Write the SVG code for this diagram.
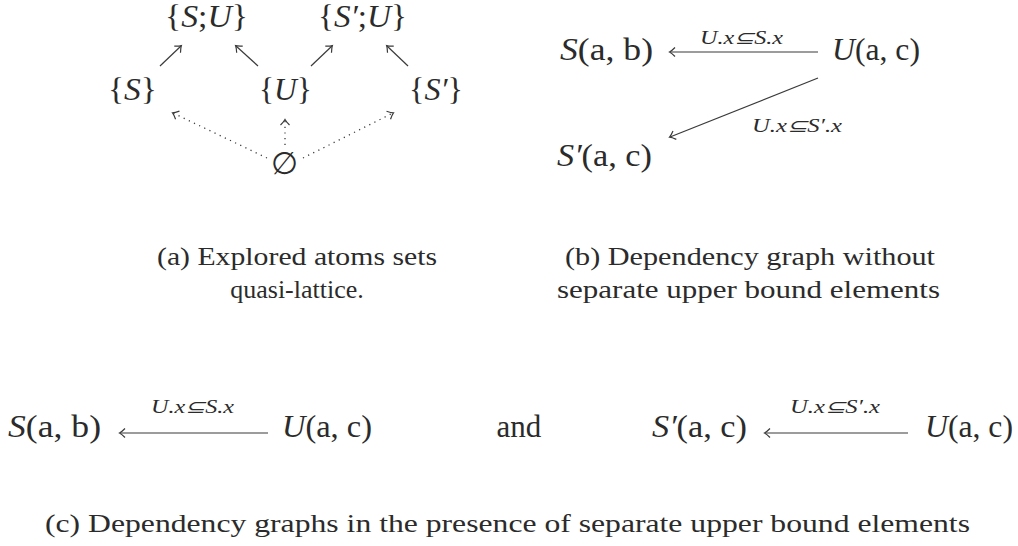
<svg xmlns="http://www.w3.org/2000/svg" width="1018" height="546" viewBox="0 0 1018 546">
<style>
text{font-family:"Liberation Serif",serif;fill:#2b2b2b;}
.m{font-size:31px;}
.l{font-size:18px;font-style:italic;}
.cap{font-size:26px;}
.i{font-style:italic;}
.ln{stroke:#3a3a3a;stroke-width:1.2;fill:none;}
.dt{stroke:#3a3a3a;stroke-width:1.3;fill:none;stroke-dasharray:1.2 4.5;}
</style>
<defs>
<marker id="ah" markerWidth="12" markerHeight="12" refX="0" refY="0" viewBox="-7 -6 9 12" orient="auto" markerUnits="userSpaceOnUse">
<path d="M-5,-4.5 Q-1.5,-1 0.5,0 Q-1.5,1 -5,4.5" fill="none" stroke="#3a3a3a" stroke-width="1.2"/>
</marker>
</defs>
<g id="connectors">
<line class="ln" x1="160" y1="66" x2="181" y2="46" marker-end="url(#ah)"/>
<line class="ln" x1="258" y1="66" x2="236" y2="46" marker-end="url(#ah)"/>
<line class="ln" x1="311" y1="66" x2="332" y2="46" marker-end="url(#ah)"/>
<line class="ln" x1="408" y1="66" x2="387" y2="46" marker-end="url(#ah)"/>
<line class="dt" x1="267" y1="158" x2="173" y2="113" marker-end="url(#ah)"/>
<line class="dt" x1="285" y1="145" x2="285" y2="120" marker-end="url(#ah)"/>
<line class="dt" x1="303" y1="158" x2="393" y2="113" marker-end="url(#ah)"/>
<line class="ln" x1="818" y1="52" x2="670" y2="52" marker-end="url(#ah)"/>
<text class="l" x="700" y="44" textLength="83" lengthAdjust="spacingAndGlyphs">U.x⊆S.x</text>
<line class="ln" x1="818" y1="78" x2="670" y2="137" marker-end="url(#ah)"/>
<text class="l" x="752" y="132" textLength="90" lengthAdjust="spacingAndGlyphs">U.x⊆S′.x</text>
<line class="ln" x1="268" y1="433" x2="120" y2="433" marker-end="url(#ah)"/>
<text class="l" x="151" y="413" textLength="83" lengthAdjust="spacingAndGlyphs">U.x⊆S.x</text>
<line class="ln" x1="908" y1="433" x2="765" y2="433" marker-end="url(#ah)"/>
<text class="l" x="790" y="413" textLength="90" lengthAdjust="spacingAndGlyphs">U.x⊆S′.x</text>
</g>
<g id="n-SU"><text class="m" x="165" y="27" textLength="83" lengthAdjust="spacingAndGlyphs">{<tspan class="i">S</tspan>;<tspan class="i">U</tspan>}</text></g>
<g id="n-SpU"><text class="m" x="318" y="27" textLength="89" lengthAdjust="spacingAndGlyphs">{<tspan class="i">S′</tspan>;<tspan class="i">U</tspan>}</text></g>
<g id="n-S"><text class="m" x="108" y="100" textLength="49" lengthAdjust="spacingAndGlyphs">{<tspan class="i">S</tspan>}</text></g>
<g id="n-U"><text class="m" x="259" y="100" textLength="53" lengthAdjust="spacingAndGlyphs">{<tspan class="i">U</tspan>}</text></g>
<g id="n-Sp"><text class="m" x="409" y="100" textLength="54" lengthAdjust="spacingAndGlyphs">{<tspan class="i">S′</tspan>}</text></g>
<g id="n-empty"><text class="m" x="284" y="174" text-anchor="middle">∅</text></g>
<g id="cap-a">
<text class="cap" x="157" y="265" textLength="280" lengthAdjust="spacingAndGlyphs">(a) Explored atoms sets</text>
<text class="cap" x="297" y="298" text-anchor="middle">quasi-lattice.</text>
</g>
<g id="b-S"><text class="m" x="560" y="60" textLength="93" lengthAdjust="spacingAndGlyphs"><tspan class="i">S</tspan>(a, b)</text></g>
<g id="b-U"><text class="m" x="832" y="60" textLength="88" lengthAdjust="spacingAndGlyphs"><tspan class="i">U</tspan>(a, c)</text></g>
<g id="b-Sp"><text class="m" x="557" y="166" textLength="95" lengthAdjust="spacingAndGlyphs"><tspan class="i">S′</tspan>(a, c)</text></g>
<g id="cap-b">
<text class="cap" x="565" y="265" textLength="370" lengthAdjust="spacingAndGlyphs">(b) Dependency graph without</text>
<text class="cap" x="557" y="298" textLength="383" lengthAdjust="spacingAndGlyphs">separate upper bound elements</text>
</g>
<g id="c-S"><text class="m" x="8" y="437" textLength="93" lengthAdjust="spacingAndGlyphs"><tspan class="i">S</tspan>(a, b)</text></g>
<g id="c-U1"><text class="m" x="282" y="437" textLength="90" lengthAdjust="spacingAndGlyphs"><tspan class="i">U</tspan>(a, c)</text></g>
<g id="c-and"><text class="m" x="519" y="437" text-anchor="middle">and</text></g>
<g id="c-Sp"><text class="m" x="652" y="437" textLength="95" lengthAdjust="spacingAndGlyphs"><tspan class="i">S′</tspan>(a, c)</text></g>
<g id="c-U2"><text class="m" x="925" y="437" textLength="88" lengthAdjust="spacingAndGlyphs"><tspan class="i">U</tspan>(a, c)</text></g>
<g id="cap-c"><text class="cap" x="45" y="532" textLength="925" lengthAdjust="spacingAndGlyphs">(c) Dependency graphs in the presence of separate upper bound elements</text></g>
</svg>
